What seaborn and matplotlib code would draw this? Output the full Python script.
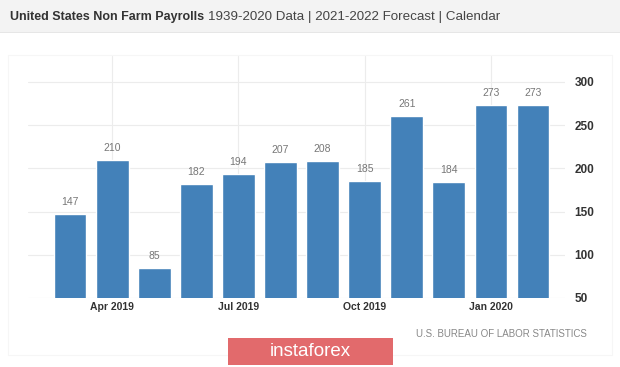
import matplotlib
matplotlib.use("Agg")
from matplotlib import pyplot as plt
from matplotlib.patches import Rectangle
import seaborn as sns
import pandas as pd

# Data
months = ["Mar 2019", "Apr 2019", "May 2019", "Jun 2019", "Jul 2019", "Aug 2019",
          "Sep 2019", "Oct 2019", "Nov 2019", "Dec 2019", "Jan 2020", "Feb 2020"]
payrolls = [147, 210, 85, 182, 194, 207, 208, 185, 261, 184, 273, 273]
tick_labels = ["Apr 2019", "Jul 2019", "Oct 2019", "Jan 2020"]
y_ticks = [50, 100, 150, 200, 250, 300]

df = pd.DataFrame({"month": months, "value": payrolls})

sns.set_style("white")
plt.rcParams["font.family"] = ["Liberation Sans", "DejaVu Sans"]

fig = plt.figure(figsize=(6.2, 3.67), dpi=100)
fig.patch.set_facecolor("white")

# header strip
fig.patches.append(Rectangle((0, 1 - 32 / 367), 1, 32 / 367, transform=fig.transFigure,
                             facecolor="#f3f3f3", edgecolor="none", zorder=0))
fig.patches.append(Rectangle((0, 1 - 33 / 367), 1, 1.2 / 367, transform=fig.transFigure,
                             facecolor="#e6e6e6", edgecolor="none", zorder=0))
# faint chart frame
fig.patches.append(Rectangle((8 / 620, 12 / 367), 604 / 620, 300 / 367, transform=fig.transFigure,
                             facecolor="none", edgecolor="#f6f6f6", lw=0.8, zorder=0))

fig.text(10 / 620, 1 - 17 / 367, "United States Non Farm Payrolls", fontsize=9,
         fontweight="bold", color="#333333", va="center", ha="left")
fig.text(208 / 620, 1 - 17 / 367, "1939-2020 Data | 2021-2022 Forecast | Calendar",
         fontsize=9.6, color="#444444", va="center", ha="left")

ax = fig.add_axes([28 / 620, 69 / 367, 537 / 620, 242 / 367])

sns.barplot(data=df, x="month", y="value", color="#4381b9", width=0.78,
            saturation=1, ax=ax, zorder=3)

ax.set_ylim(50, 330)
ax.set_xlim(-1.0, 11.76)
ax.set_yticks(y_ticks)
ax.yaxis.tick_right()
ax.set_xticks([months.index(m) for m in tick_labels])
ax.set_xticklabels(tick_labels)
ax.tick_params(axis="x", length=0, labelsize=7.5, labelcolor="#333333", pad=3)
ax.tick_params(axis="y", length=0, labelsize=8.5, labelcolor="#333333", pad=7)
for lab in ax.get_xticklabels() + ax.get_yticklabels():
    lab.set_fontweight("bold")

ax.grid(True, axis="both", color="#ececec", lw=0.8, zorder=0)
ax.set_axisbelow(True)
for s in ax.spines.values():
    s.set_visible(False)
ax.set_xlabel("")
ax.set_ylabel("")

for i, v in enumerate(payrolls):
    ax.annotate(str(v), (i, v), xytext=(0, 5), textcoords="offset points",
                ha="center", va="bottom", fontsize=7.5, color="#777777")

fig.text(587 / 620, 1 - 334 / 367, "U.S. BUREAU OF LABOR STATISTICS", fontsize=7,
         color="#888888", ha="right", va="center")

# watermark badge
fig.patches.append(Rectangle((228 / 620, 2 / 367), 165 / 620, 27 / 367, transform=fig.transFigure,
                             facecolor="#e26a6c", edgecolor="none", zorder=5))
fig.text(310 / 620, 1 - 352 / 367, "instaforex", fontsize=13.5, color="white",
         ha="center", va="center", zorder=6)

fig.savefig("out.png", dpi=100)
